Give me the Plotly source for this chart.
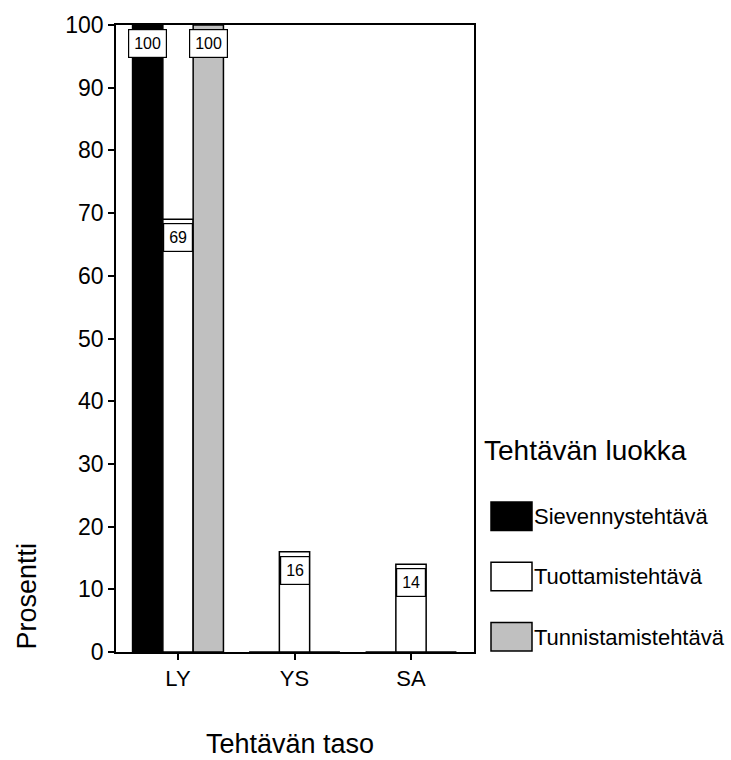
import plotly.graph_objects as go

# Task levels on the x axis
levels = ["LY", "YS", "SA"]

# Task classes and their share (%) per level
classes = ["Sievennystehtävä", "Tuottamistehtävä", "Tunnistamistehtävä"]
sievennys = [100, 0, 0]
tuottamis = [69, 16, 14]
tunnistamis = [100, 0, 0]
series = [sievennys, tuottamis, tunnistamis]

colors = ["#000000", "#ffffff", "#c0c0c0"]

y_ticks = list(range(0, 101, 10))

FONT = "Liberation Sans, Arial, sans-serif"
W, H = 731, 760
L, R, T, B = 116, 474, 17, 652          # plot area in pixels
BARGAP = 0.22


def px(p):
    """Horizontal pixel -> paper coordinate."""
    return (p - L) / (R - L)


def py(p):
    """Vertical pixel -> paper coordinate."""
    return (B - p) / (B - T)


fig = go.Figure()
for name, vals, col in zip(classes, series, colors):
    fig.add_trace(go.Bar(
        x=levels, y=vals, name=name,
        marker=dict(color=col, line=dict(color="black", width=1.5)),
        showlegend=False,
    ))

# value boxes near the top of each non-zero bar
slot = (1 - BARGAP) / len(classes)
for j, vals in enumerate(series):
    for i, v in enumerate(vals):
        if v <= 0:
            continue
        fig.add_annotation(
            x=i + (j - (len(classes) - 1) / 2) * slot, y=v,
            xref="x", yref="y", text=str(v), showarrow=False,
            yanchor="top", yshift=-4,
            font=dict(family=FONT, size=16, color="black"),
            bgcolor="white", bordercolor="black", borderwidth=1.2, borderpad=5,
        )

# axis titles
fig.add_annotation(x=px(26), y=0, xref="paper", yref="paper",
                   text="Prosentti", textangle=-90, showarrow=False,
                   xanchor="center", yanchor="bottom",
                   font=dict(family=FONT, size=27, color="black"))
fig.add_annotation(x=px(290), y=py(745), xref="paper", yref="paper",
                   text="Tehtävän taso", showarrow=False,
                   xanchor="center", yanchor="middle",
                   font=dict(family=FONT, size=27, color="black"))

# legend: title, large swatches and labels
fig.add_annotation(x=px(482), y=py(448), xref="paper", yref="paper",
                   text="Tehtävän luokka", showarrow=False,
                   xanchor="left", yanchor="middle",
                   font=dict(family=FONT, size=28, color="black"))
sw_tops = [500, 561, 622]
for name, col, top in zip(classes, colors, sw_tops):
    fig.add_shape(type="rect", xref="paper", yref="paper",
                  x0=px(491), x1=px(532), y0=py(top + 29), y1=py(top),
                  fillcolor=col, line=dict(color="black", width=1.5))
    fig.add_annotation(x=px(532), y=py(top + 15), xref="paper", yref="paper",
                       text=name, showarrow=False,
                       xanchor="left", yanchor="middle",
                       font=dict(family=FONT, size=22, color="black"))

# category axis scaled so the level ticks sit at their positions
unit = 116.5
x_left = -(178 - L) / unit
x_right = (R - 178) / unit

fig.update_layout(
    width=W, height=H,
    margin=dict(l=L, r=W - R, t=T, b=H - B),
    paper_bgcolor="white", plot_bgcolor="white",
    barmode="group", bargap=BARGAP, bargroupgap=0,
    font=dict(family=FONT, color="black"),
    xaxis=dict(
        type="category", range=[x_left, x_right],
        showline=True, linecolor="black", linewidth=1.8, mirror=True,
        ticks="outside", ticklen=6, tickwidth=1.5, tickcolor="black",
        tickfont=dict(family=FONT, size=22, color="black"),
        showgrid=False, zeroline=False,
    ),
    yaxis=dict(
        range=[0, 100], tickvals=y_ticks,
        showline=True, linecolor="black", linewidth=1.8, mirror=True,
        ticks="outside", ticklen=6, tickwidth=1.5, tickcolor="black",
        tickfont=dict(family=FONT, size=23, color="black"),
        showgrid=False, zeroline=False,
    ),
)

fig.write_html("out.html")
